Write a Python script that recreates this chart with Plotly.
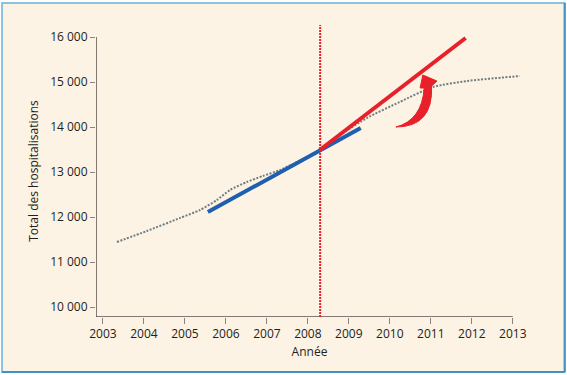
import plotly.graph_objects as go

# Observed series (total hospitalisations)
obs_years = [2003.34, 2004.07, 2004.88, 2005.37, 2005.78, 2006.10, 2006.51, 2006.90,
             2007.32, 2007.73, 2008.22, 2008.29, 2008.78, 2009.44, 2010.24, 2011.05,
             2011.88, 2013.17]
obs_values = [11444, 11689, 11978, 12156, 12378, 12600, 12778, 12911,
              13044, 13222, 13444, 13489, 13822, 14200, 14556, 14889,
              15022, 15133]

# Pre-intervention trend (blue)
trend_before_years = [2005.56, 2009.29]
trend_before_values = [12111, 13978]

# Post-intervention trend (red)
trend_after_years = [2008.29, 2011.85]
trend_after_values = [13489, 15978]

intervention_year = 2008.3

x_ticks = [2003, 2004, 2005, 2006, 2007, 2008, 2009, 2010, 2011, 2012, 2013]
y_ticks = [10000, 11000, 12000, 13000, 14000, 15000, 16000]
y_tick_labels = ["10 000", "11 000", "12 000", "13 000", "14 000", "15 000", "16 000"]

x_min, x_max = 2002.83, 2013.25
y_min, y_max = 9778, 16267

cream = "#FDF3E4"
axis_col = "#5b4f4c"
text_col = "#231f20"
font_fam = "Open Sans, Lato, sans-serif"

fig = go.Figure()
fig.add_trace(go.Scatter(x=obs_years, y=obs_values, mode="lines",
                         line=dict(color="#6f7d84", width=2, dash="2px,1.5px", shape="spline", smoothing=0.6),
                         hoverinfo="skip"))
fig.add_trace(go.Scatter(x=trend_before_years, y=trend_before_values, mode="lines",
                         line=dict(color="#1f5fb0", width=4), hoverinfo="skip"))
fig.add_trace(go.Scatter(x=trend_after_years, y=trend_after_values, mode="lines",
                         line=dict(color="#e8202a", width=4), hoverinfo="skip"))

shapes = []
# outer frame
shapes.append(dict(type="rect", xref="paper", yref="paper", x0=-0.22, x1=1.0977, y0=-0.188, y1=1.0753,
                   fillcolor=cream, line=dict(color="#8cc2e0", width=2), layer="below"))
shapes.append(dict(type="line", xref="paper", yref="paper", x0=-0.22, x1=1.0977, y0=-0.188, y1=-0.188,
                   line=dict(color="#3d93c8", width=2)))
shapes.append(dict(type="line", xref="paper", yref="paper", x0=1.0977, x1=1.0977, y0=-0.188, y1=1.0753,
                   line=dict(color="#3d93c8", width=2)))
# axis lines
shapes.append(dict(type="line", xref="x", yref="y", x0=x_min, x1=x_min, y0=y_min, y1=y_ticks[-1],
                   line=dict(color=axis_col, width=1.5)))
shapes.append(dict(type="line", xref="x", yref="y", x0=x_min, x1=x_ticks[-1], y0=y_min, y1=y_min,
                   line=dict(color=axis_col, width=1.5)))
# intervention line
shapes.append(dict(type="line", xref="x", yref="paper", x0=intervention_year, x1=intervention_year, y0=0, y1=1,
                   line=dict(color="#e8202a", width=2, dash="2px,1px")))
# curved arrow
arrow_path = ("M 2010.805,15156 L 2011.15,15022 L 2011.02,14911 "
              "Q 2011.06,14000 2010.15,14000 "
              "Q 2010.78,14150 2010.84,14867 "
              "L 2010.74,14867 Z")
shapes.append(dict(type="path", xref="x", yref="y", path=arrow_path,
                   fillcolor="#e8202a", line=dict(color="#e8202a", width=1)))

fig.update_layout(
    width=567, height=375,
    margin=dict(l=96, r=44, t=25, b=58, autoexpand=False),
    paper_bgcolor="white", plot_bgcolor=cream,
    showlegend=False,
    shapes=shapes,
    font=dict(family=font_fam, size=12, color=text_col),
    xaxis=dict(range=[x_min, x_max], tickvals=x_ticks, ticktext=[str(v) for v in x_ticks],
               showgrid=False, zeroline=False, showline=False, automargin=False,
               ticks="outside", ticklen=6, tickcolor="#8a8280", tickwidth=1,
               tickfont=dict(size=12, color=text_col),
               title=dict(text="Année", font=dict(size=12, color=text_col), standoff=6)),
    yaxis=dict(range=[y_min, y_max], tickvals=y_ticks, ticktext=y_tick_labels,
               showgrid=False, zeroline=False, showline=False, automargin=False,
               ticks="outside", ticklen=5, tickcolor="#8a8280", tickwidth=1,
               tickfont=dict(size=12, color=text_col),
               title=dict(text="Total des hospitalisations", font=dict(size=12, color=text_col), standoff=8)),
)

fig.write_html("out.html", config={"displayModeBar": False},
               post_script="document.body.style.margin='0';document.body.style.padding='0';")
